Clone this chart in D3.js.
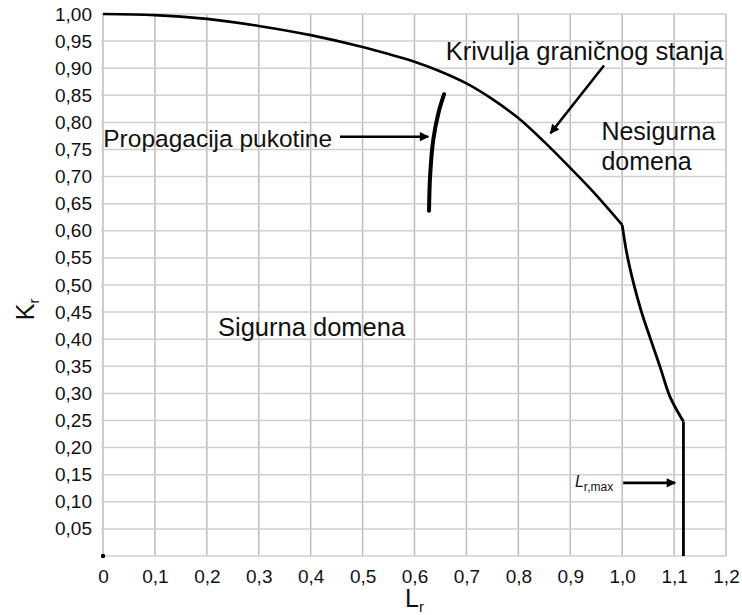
<!DOCTYPE html>
<html>
<head>
<meta charset="utf-8">
<script src="https://cdn.jsdelivr.net/npm/d3@7"></script>
<style>
  body { margin: 0; background: #fff; }
  svg { display: block; font-family: "Liberation Sans", Arial, sans-serif; }
</style>
</head>
<body>
<div id="chart"></div>
<script>
// tick values for both axes
const xTicks = [0, 0.1, 0.2, 0.3, 0.4, 0.5, 0.6, 0.7, 0.8, 0.9, 1.0, 1.1, 1.2];
const yTicks = [0, 0.05, 0.10, 0.15, 0.20, 0.25, 0.30, 0.35, 0.40, 0.45, 0.50,
                0.55, 0.60, 0.65, 0.70, 0.75, 0.80, 0.85, 0.90, 0.95, 1.00];

// limit state curve (upper smooth part, Lr <= 1.0)
const curveLr = [0, 0.1, 0.2, 0.3, 0.4, 0.5, 0.55, 0.6, 0.65, 0.7, 0.75, 0.8, 0.85, 0.9, 0.95, 1.0];
const curveKr = [1.0, 0.998, 0.991, 0.978, 0.961, 0.939, 0.926, 0.912, 0.894, 0.872, 0.843, 0.808, 0.764, 0.716, 0.666, 0.611];

// steep part of the curve down to Lr,max
const tailLr = [1.0, 1.009, 1.022, 1.037, 1.054, 1.073, 1.092, 1.118];
const tailKr = [0.611, 0.558, 0.503, 0.451, 0.402, 0.349, 0.294, 0.248];

// cut-off at Lr,max
const cutLr = [1.118, 1.118];
const cutKr = [0.248, 0];

// crack propagation path
const crackLr = [0.628, 0.630, 0.636, 0.646, 0.657];
const crackKr = [0.637, 0.700, 0.767, 0.817, 0.852];

const width = 742;
const height = 615;
const margin = { top: 14, right: 16, bottom: 59, left: 103 };
const innerWidth = width - margin.left - margin.right;
const innerHeight = height - margin.top - margin.bottom;

const svg = d3.select("#chart")
    .append("svg")
    .attr("width", width)
    .attr("height", height);

// arrowhead marker
svg.append("defs").append("marker")
    .attr("id", "arrow")
    .attr("viewBox", "0 0 10 10")
    .attr("refX", 9)
    .attr("refY", 5)
    .attr("markerWidth", 4.2)
    .attr("markerHeight", 3.6)
    .attr("markerUnits", "strokeWidth")
    .attr("orient", "auto")
    .append("path")
    .attr("d", "M0,0 L10,5 L0,10 Z")
    .attr("fill", "#000");

const g = svg.append("g")
    .attr("transform", `translate(${margin.left},${margin.top})`);

const x = d3.scaleLinear().domain([0, 1.2]).range([0, innerWidth]);
const y = d3.scaleLinear().domain([0, 1.0]).range([innerHeight, 0]);

// --- grid ---
g.append("g")
    .selectAll("line")
    .data(xTicks)
    .join("line")
    .attr("x1", d => x(d)).attr("x2", d => x(d))
    .attr("y1", 0).attr("y2", innerHeight)
    .attr("stroke", "#bdbdbd")
    .attr("stroke-width", 1.5);

g.append("g")
    .selectAll("line")
    .data(yTicks)
    .join("line")
    .attr("x1", -2).attr("x2", innerWidth)
    .attr("y1", d => y(d)).attr("y2", d => y(d))
    .attr("stroke", "#cfcfcf")
    .attr("stroke-width", 1.5);

// --- axes (labels only) ---
const xAxis = g.append("g")
    .attr("transform", `translate(0,${innerHeight})`)
    .call(d3.axisBottom(x)
        .tickValues(xTicks)
        .tickSize(0)
        .tickPadding(14)
        .tickFormat(d => d === 0 ? "0" : d.toFixed(1).replace(".", ",")));

const yAxis = g.append("g")
    .call(d3.axisLeft(y)
        .tickValues(yTicks.filter(d => d > 0))
        .tickSize(0)
        .tickPadding(11)
        .tickFormat(d => d.toFixed(2).replace(".", ",")));

[xAxis, yAxis].forEach(a => {
    a.select(".domain").remove();
    a.selectAll("text")
        .attr("fill", "#111")
        .style("font-size", "19px")
        .style("font-family", "'Liberation Sans', Arial, sans-serif");
});

// origin dot
g.append("circle")
    .attr("cx", x(0)).attr("cy", y(0))
    .attr("r", 2.2)
    .attr("fill", "#000");

// --- limit state curve ---
const toPts = (xs, ys) => xs.map((v, i) => ({ lr: v, kr: ys[i] }));
const line = d3.line().x(d => x(d.lr)).y(d => y(d.kr));

g.append("path")
    .attr("fill", "none")
    .attr("stroke", "#000")
    .attr("stroke-width", 2.6)
    .attr("d", line.curve(d3.curveMonotoneX)(toPts(curveLr, curveKr)));

g.append("path")
    .attr("fill", "none")
    .attr("stroke", "#000")
    .attr("stroke-width", 2.8)
    .attr("d", line.curve(d3.curveCatmullRom)(toPts(tailLr, tailKr)));

g.append("path")
    .attr("fill", "none")
    .attr("stroke", "#000")
    .attr("stroke-width", 2.8)
    .attr("d", line.curve(d3.curveLinear)(toPts(cutLr, cutKr)));

// crack propagation path
g.append("path")
    .attr("fill", "none")
    .attr("stroke", "#000")
    .attr("stroke-width", 4)
    .attr("stroke-linecap", "round")
    .attr("d", line.curve(d3.curveCatmullRom)(toPts(crackLr, crackKr)));

// --- annotations ---
const arrow = (x1, y1, x2, y2) => g.append("line")
    .attr("x1", x(x1)).attr("y1", y(y1))
    .attr("x2", x(x2)).attr("y2", y(y2))
    .attr("stroke", "#000")
    .attr("stroke-width", 2.6)
    .attr("marker-end", "url(#arrow)");

const label = (txt, lx, ly, size) => g.append("text")
    .attr("x", x(lx)).attr("y", y(ly))
    .attr("fill", "#111")
    .style("font-size", size + "px")
    .text(txt);

arrow(0.4565, 0.7736, 0.6265, 0.7736);
arrow(0.965, 0.905, 0.862, 0.780);
arrow(1.002, 0.135, 1.102, 0.135);

label("Propagacija pukotine", 0.0005, 0.755, 24.5);
label("Krivulja graničnog stanja", 0.66, 0.915, 25.5);
label("Nesigurna", 0.96, 0.7675, 25);
label("domena", 0.96, 0.712, 25);
label("Sigurna domena", 0.2215, 0.406, 25.5);

// L r,max
const lmax = g.append("text")
    .attr("x", x(0.909)).attr("y", y(0.128))
    .attr("fill", "#111")
    .style("font-size", "16px");
lmax.append("tspan").style("font-style", "italic").text("L");
lmax.append("tspan").attr("dy", 4).style("font-size", "12px").text("r,max");

// --- axis titles ---
const xt = svg.append("text")
    .attr("x", margin.left + x(0.6))
    .attr("y", 607)
    .attr("text-anchor", "middle")
    .attr("fill", "#111")
    .style("font-size", "25px");
xt.append("tspan").text("L");
xt.append("tspan").attr("dy", 5).style("font-size", "15px").text("r");

const yt = svg.append("text")
    .attr("transform", `translate(34,${margin.top + y(0.455)}) rotate(-90)`)
    .attr("text-anchor", "middle")
    .attr("fill", "#111")
    .style("font-size", "25px");
yt.append("tspan").text("K");
yt.append("tspan").attr("dy", 5).style("font-size", "15px").text("r");
</script>
</body>
</html>
